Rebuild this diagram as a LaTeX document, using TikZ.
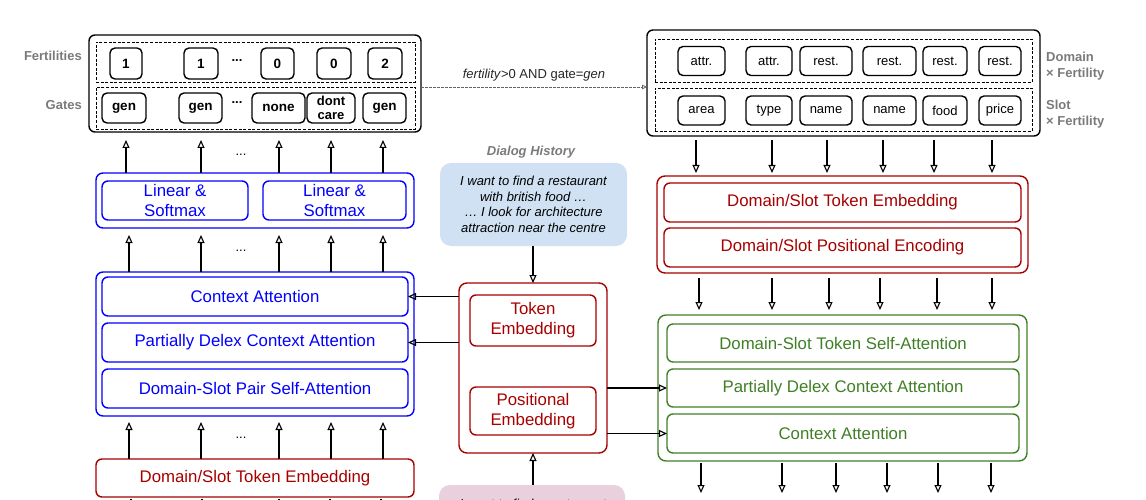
\documentclass[tikz,border=0pt]{standalone}
\usepackage{fontspec}
\setmainfont{Liberation Sans}
\usetikzlibrary{arrows.meta}
\definecolor{cblue}{RGB}{0,0,255}
\definecolor{cred}{HTML}{A60000}
\definecolor{cgreen}{HTML}{3F7F25}
\definecolor{cgray}{HTML}{7A7A7A}
\definecolor{dlgfill}{HTML}{CFE1F2}
\definecolor{pinkfill}{HTML}{E8D1DC}
\newcommand\bigfnt{\fontsize{16.8}{20}\selectfont}
\newcommand\smfnt{\fontsize{13}{14}\selectfont}
\tikzset{
  base/.style={inner sep=0pt, outer sep=0pt, align=center, line width=1.4pt},
  sz/.style 2 args={minimum width=#1pt, minimum height=#2pt},
  blk/.style={base, draw=black, rounded corners=5pt, font=\fontsize{13.5}{14}\selectfont\bfseries},
  dsbox/.style={base, draw=black, rounded corners=5pt, font=\smfnt},
  outerblk/.style={base, draw=black, rounded corners=6pt},
  dashbox/.style={base, draw=black, dash pattern=on 3pt off 1.6pt, line width=0.9pt},
  bout/.style={base, draw=cblue, rounded corners=7pt},
  bin/.style={base, draw=cblue, text=cblue, rounded corners=6pt, font=\bigfnt},
  rout/.style={base, draw=cred, rounded corners=8pt},
  rin/.style={base, draw=cred, text=cred, rounded corners=6pt, font=\bigfnt},
  gout/.style={base, draw=cgreen, rounded corners=8pt},
  gin/.style={base, draw=cgreen, text=cgreen, rounded corners=6pt, font=\bigfnt},
  lbl/.style={inner sep=0pt, text=cgray, font=\smfnt\bfseries},
  dlg/.style={inner sep=0pt, fill=dlgfill, rounded corners=11pt, align=center,
    font=\fontsize{13}{15.5}\selectfont\itshape},
  pnk/.style={inner sep=0pt, fill=pinkfill, rounded corners=11pt},
  arr/.style={line width=1.5pt, -{Triangle[open,length=8pt,width=7pt,line width=1.1pt]}},
  dasharr/.style={draw=cgray!80!black, line width=0.9pt, dash pattern=on 2.5pt off 1.5pt,
    -{Triangle[open,length=5pt,width=4.5pt,line width=0.8pt]}},
  dots/.style={inner sep=0pt, font=\smfnt},
}
\begin{document}
\begin{tikzpicture}[x=1pt,y=-1pt]
\useasboundingbox (0,0) rectangle (1146,500);

% ---------- left top: fertilities and gates ----------
\node[outerblk, sz={332}{97}] (lt) at (255,83.5) {};
\node[dashbox, sz={319}{40}] (ltf) at (255.5,62) {};
\node[dashbox, sz={319}{42}] (ltg) at (255.5,108) {};
\node[blk, sz={32}{31}] (f1) at (126,63.5) {1};
\node[blk, sz={34}{31}] (f2) at (201,63.5) {1};
\node[blk, sz={33}{31}] (f3) at (277.5,63.5) {0};
\node[blk, sz={34}{31}] (f4) at (334,63.5) {0};
\node[blk, sz={34}{31}] (f5) at (385,63.5) {2};
\node[dots, font=\smfnt\bfseries] (fd) at (237,61) {...};
\node[blk, sz={44}{30}] (g1) at (124,108) {gen};
\node[blk, sz={43}{30}] (g2) at (200.5,108) {gen};
\node[blk, sz={53}{30}] (g3) at (278.5,108) {none};
\node[blk, sz={48}{30}, font=\fontsize{13}{14}\selectfont\bfseries] (g4) at (331,108) {dont\\care};
\node[blk, sz={43}{30}] (g5) at (384.5,108) {gen};
\node[dots, font=\smfnt\bfseries] (gd) at (237,103) {...};
\node[lbl, anchor=east] (lf) at (82,56) {Fertilities};
\node[lbl, anchor=east] (lg) at (82,105) {Gates};

% ---------- right top: domain / slot ----------
\node[outerblk, sz={393}{106}] (rt) at (843.5,83) {};
\node[dashbox, sz={377}{43}] (rtd) at (843.5,60.5) {};
\node[dashbox, sz={377}{43}] (rts) at (843.5,109.5) {};
\node[dsbox, sz={47}{29}] (d1) at (701.5,61) {attr.};
\node[dsbox, sz={46}{29}] (d2) at (769,61) {attr.};
\node[dsbox, sz={52}{29}] (d3) at (826,61) {rest.};
\node[dsbox, sz={53}{29}] (d4) at (889.5,61) {rest.};
\node[dsbox, sz={44}{29}] (d5) at (945,61) {rest.};
\node[dsbox, sz={42}{29}] (d6) at (1000,61) {rest.};
\node[dsbox, sz={47}{29}] (s1) at (701.5,110.5) {area};
\node[dsbox, sz={46}{29}] (s2) at (769,110.5) {type};
\node[dsbox, sz={52}{29}] (s3) at (826,110.5) {name};
\node[dsbox, sz={53}{29}] (s4) at (889.5,110.5) {name};
\node[dsbox, sz={44}{29}] (s5) at (945,110.5) {food};
\node[dsbox, sz={42}{29}] (s6) at (1000,110.5) {price};
\node[lbl, anchor=west, align=left, font=\fontsize{13}{16.5}\selectfont\bfseries] (ld) at (1046,66) {Domain\\× Fertility};
\node[lbl, anchor=west, align=left, font=\fontsize{13}{16.5}\selectfont\bfseries] (ls) at (1046,114) {Slot\\× Fertility};

% dashed connector
\draw[dasharr] (lt.east |- ltg.north) -- (lt.east |- ltg.north -| rt.west)
  node[midway, above=5pt, inner sep=0pt, text=black!85, font=\fontsize{13}{14}\selectfont]
  {\textit{fertility}>0 AND gate=\textit{gen}};

% ---------- left column ----------
\node[bout, sz={318}{55}] (lin) at (255,200.5) {};
\node[bin, sz={146}{39}] (lin1) at (175,200.5) {Linear \&\\Softmax};
\node[bin, sz={143}{39}] (lin2) at (334.5,200.5) {Linear \&\\Softmax};

\node[bout, sz={318}{144}] (att) at (255,344) {};
\node[bin, sz={306}{39}] (ca) at (255,296.5) {Context Attention};
\node[bin, sz={306}{39}] (pd) at (255,342.5) {Partially Delex Context Attention};
\node[bin, sz={306}{39}] (dsp) at (255,388.5) {Domain-Slot Pair Self-Attention};

\node[rin, sz={318}{38}] (dse) at (255,478) {Domain/Slot Token Embedding};

\node[dots] (dt) at (241,155) {...};
\node[dots] (dm) at (241,251) {...};
\node[dots] (db) at (241,438) {...};

\foreach \x in {126,201,279,331,383}{
  \coordinate (t) at (\x,0);
  \draw[arr, shorten >=8pt] (t |- lin.north) -- (t |- lt.south);
}
\foreach \x in {129,201,279,331,383}{
  \coordinate (t) at (\x,0);
  \draw[arr, shorten >=7pt] (t |- att.north) -- (t |- lin.south);
  \draw[arr, shorten >=6pt] (t |- dse.north) -- (t |- att.south);
}
\foreach \x in {131,202,279,330,381}{
  \coordinate (t) at (\x,520);
  \draw[line width=1.4pt, shorten <=1.5pt] (t |- dse.south) -- (t);
}

% ---------- centre column ----------
\node[lbl, font=\fontsize{13}{14}\selectfont\bfseries\itshape] (dh) at (531,152) {Dialog History};
\node[dlg, sz={187}{83}] (dlg) at (533.5,204.5)
  {I want to find a restaurant\\with british food …\\… I look for architecture\\attraction near the centre};
\node[rout, sz={148}{170}] (cen) at (533,368) {};
\node[rin, sz={126}{51}] (tok) at (533,320.5) {Token\\Embedding};
\node[rin, sz={126}{48}] (pos) at (533,411) {Positional\\Embedding};
\node[pnk, sz={186}{83}] (pk) at (532,526.5) {};
\node[inner sep=0pt, font=\fontsize{13}{15.5}\selectfont\itshape] (pkt) at (533,503.5) {I want to find a restaurant};

\coordinate (cx) at (533,0);
\draw[arr] (cx |- dlg.south) -- (cx |- cen.north);
\draw[arr] (cx |- pk.north) -- (cx |- cen.south);
\draw[arr] (cen.west |- ca.east) -- (ca.east);
\draw[arr] (cen.west |- pd.east) -- (pd.east);

% ---------- right column ----------
\node[rout, sz={371}{97}] (rr) at (842.5,224.5) {};
\node[rin, sz={357}{39}] (rte) at (842.5,202.5) {Domain/Slot Token Embedding};
\node[rin, sz={357}{39}] (rpe) at (842.5,247.5) {Domain/Slot Positional Encoding};

\node[gout, sz={369}{146}] (gr) at (842.5,388) {};
\node[gin, sz={352}{38}] (gsa) at (843,343) {Domain-Slot Token Self-Attention};
\node[gin, sz={352}{38}] (gpd) at (843,388) {Partially Delex Context Attention};
\node[gin, sz={352}{39}] (gca) at (843,433.5) {Context Attention};

\draw[arr] (cen.east |- gpd.west) -- (gpd.west);
\draw[arr] (cen.east |- gca.west) -- (gca.west);

\foreach \x in {696,772,827,883,934,992}{
  \coordinate (t) at (\x,0);
  \draw[arr, shorten <=4pt, shorten >=3pt] (t |- rt.south) -- (t |- rr.north);
}
\foreach \x in {699,772,829,880,937,992}{
  \coordinate (t) at (\x,0);
  \draw[arr, shorten <=5pt, shorten >=5pt] (t |- rr.south) -- (t |- gr.north);
}
\foreach \x in {701,782,836,887,938,991}{
  \coordinate (t) at (\x,493);
  \draw[arr, shorten <=2pt] (t |- gr.south) -- (t);
}
\end{tikzpicture}
\end{document}
